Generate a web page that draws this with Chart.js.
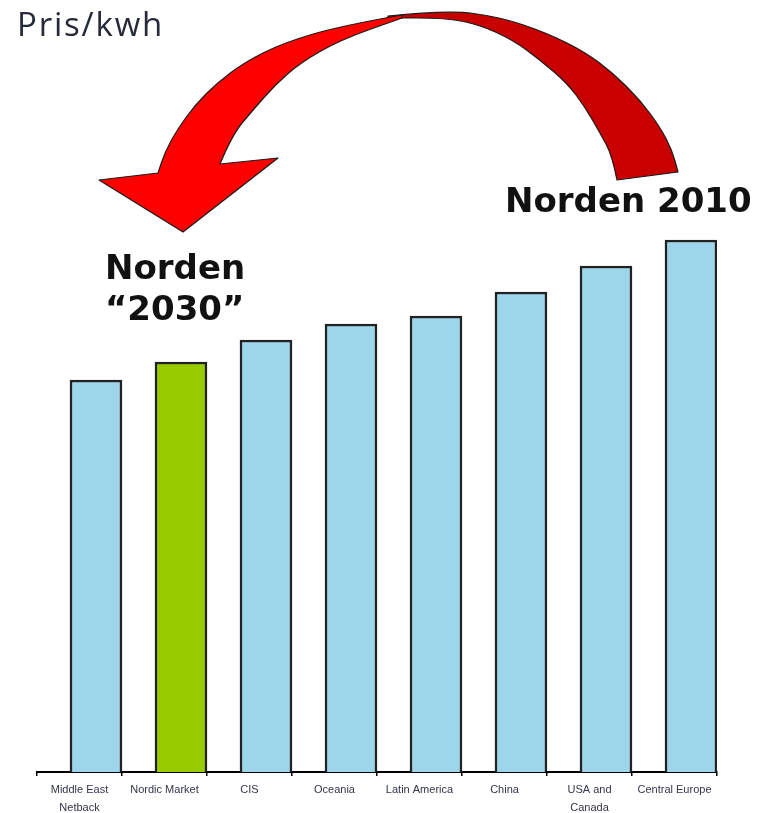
<!DOCTYPE html>
<html lang="sv">
<head>
  <meta charset="UTF-8" />
  <title>Pris/kwh</title>
  <script src="https://cdn.jsdelivr.net/npm/chart.js"></script>
  <style>
    body { margin: 0; background: #fff; }
    #wrap { position: relative; width: 773px; height: 813px; }
    #chart { position: absolute; left: 0; top: 0; }
    .txt { position: absolute; white-space: nowrap; }
    #ytitel { left: 17px; top: 7px; font: 33px 'Open Sans', sans-serif; line-height: 1; color: #262a3a; letter-spacing: 1.8px; }
    .stor { font: bold 34px 'DejaVu Sans', sans-serif; color: #111; line-height: 41px; }
    #n2010 { left: 505px; top: 180px; }
    #n2030 { left: 105px; top: 247px; }
  </style>
</head>
<body>
  <div id="wrap">
    <canvas id="chart" width="773" height="813"></canvas>
    <div id="ytitel" class="txt">Pris/kwh</div>
    <div id="n2010" class="txt stor">Norden 2010</div>
    <div id="n2030" class="txt stor">Norden<br>“2030”</div>
  </div>

  <script>
    // data
    const regioner = [['Middle East', 'Netback'], 'Nordic Market', 'CIS', 'Oceania', 'Latin America', 'China', ['USA and', 'Canada'], 'Central Europe'];
    const pris = [39.2, 41.0, 43.2, 44.8, 45.6, 48.0, 50.6, 53.2];
    const markerad = 1; // Nordic Market

    const bla = '#9dd5ea';
    const gron = '#99cc00';

    // staplarna sitter till höger i varje kategori
    const skift = 0.194;

    // böjd pil (dekor)
    const pilPlugin = {
      id: 'pil',
      afterDraw(chart) {
        const ctx = chart.ctx;
        function kurva(pts, forst) {
          if (forst) ctx.moveTo(pts[0][0], pts[0][1]); else ctx.lineTo(pts[0][0], pts[0][1]);
          for (let i = 1; i < pts.length - 1; i++) {
            const mx = (pts[i][0] + pts[i + 1][0]) / 2, my = (pts[i][1] + pts[i + 1][1]) / 2;
            ctx.quadraticCurveTo(pts[i][0], pts[i][1], mx, my);
          }
          const s = pts[pts.length - 1];
          ctx.lineTo(s[0], s[1]);
        }
        ctx.save();
        ctx.strokeStyle = '#1a1a1a';
        ctx.lineWidth = 1.2;
        ctx.lineJoin = 'round';

        // mörk del (baksidan)
        ctx.beginPath();
        kurva([[388, 16], [447, 10], [500, 17], [547, 33], [585, 52], [613, 73], [640, 100], [660, 127], [672, 150], [678, 172]], true);
        ctx.lineTo(617, 180);
        kurva([[617, 180], [612, 155], [600, 133], [585, 107], [567, 83], [540, 60], [513, 40], [480, 25], [447, 18], [388, 18]], false);
        ctx.closePath();
        ctx.fillStyle = '#c80000';
        ctx.fill();
        ctx.stroke();

        // ljus del med pilspets
        ctx.beginPath();
        kurva([[402, 15], [340, 26], [283, 43], [245, 62], [217, 83], [195, 105], [177, 130], [165, 152], [158, 173]], true);
        ctx.lineTo(99, 180);
        ctx.lineTo(183, 232);
        ctx.lineTo(278, 158);
        ctx.lineTo(220, 164);
        kurva([[220, 164], [232, 135], [253, 110], [275, 85], [300, 63], [340, 40], [402, 18]], false);
        ctx.closePath();
        ctx.fillStyle = '#ff0000';
        ctx.fill();
        ctx.stroke();
        ctx.restore();
      }
    };

    new Chart(document.getElementById('chart').getContext('2d'), {
      type: 'bar',
      data: {
        labels: regioner,
        datasets: [{
          data: pris.map((v, i) => ({ x: i, y: v })),
          xAxisID: 'xb',
          backgroundColor: pris.map((v, i) => i === markerad ? gron : bla),
          borderColor: '#222',
          borderWidth: 2.5,
          borderSkipped: 'bottom',
          barThickness: 52
        }]
      },
      options: {
        responsive: false,
        animation: false,
        layout: { padding: { left: 37, right: 56, top: 172, bottom: 0 } },
        plugins: { legend: { display: false }, tooltip: { enabled: false } },
        scales: {
          x: {
            type: 'category',
            offset: true,
            grid: { offset: true, drawOnChartArea: false, color: '#000', lineWidth: 1.5, tickLength: 4 },
            border: { color: '#000', width: 2 },
            ticks: {
              autoSkip: false, maxRotation: 0, padding: 5,
              color: '#33364a',
              font: { family: 'Liberation Sans', size: 11, lineHeight: 1.64 }
            },
            afterFit(s) { s.height = 41; }
          },
          xb: {
            type: 'linear',
            display: false,
            offset: false,
            min: -0.5 - skift,
            max: 7.5 - skift
          },
          y: { display: false, min: 0, max: 60 }
        }
      },
      plugins: [pilPlugin]
    });
  </script>
</body>
</html>
